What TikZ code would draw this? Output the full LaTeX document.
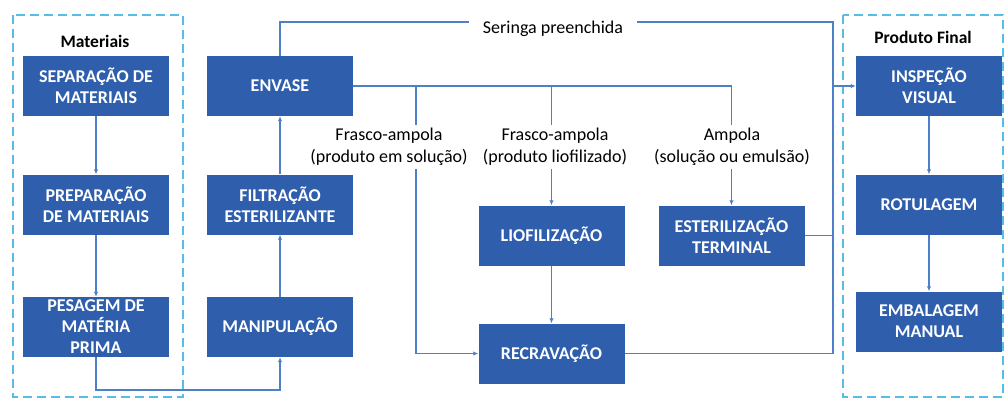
\documentclass[tikz,border=0pt]{standalone}
\usepackage{fontspec}
\setmainfont{Carlito}
\usetikzlibrary{arrows.meta}

\definecolor{boxblue}{RGB}{46,94,172}
\definecolor{lineblue}{RGB}{78,128,200}
\definecolor{dashblue}{RGB}{85,189,230}

\begin{document}
\begin{tikzpicture}[x=1pt, y=-1pt,
    stepbox/.style={fill=boxblue, text=white, minimum width=146pt, minimum height=60pt,
        inner sep=0pt, align=center, font=\fontsize{18}{21}\selectfont\bfseries},
    flow/.style={draw=lineblue, line width=1.2pt},
    arr/.style={flow, -{Latex[length=5pt,width=4.5pt]}},
    group/.style={draw=dashblue, line width=2.6pt, dash pattern=on 9pt off 5pt},
    label/.style={fill=white, align=center, inner xsep=2pt, font=\fontsize{18}{22}\selectfont},
    title/.style={font=\fontsize{17.5}{20}\selectfont\bfseries}]

    \useasboundingbox (0,0) rectangle (1005,400);

    % dashed groups
    \draw[group] (13,15) rectangle (183,397);
    \draw[group] (843,15) rectangle (1003,397);
    \node[title] (materiais) at (95,41) {Materiais};
    \node[title] (produto) at (923,37) {Produto Final};

    % boxes
    \node[stepbox] (separacao) at (96,86) {SEPARAÇÃO DE\\MATERIAIS};
    \node[stepbox] (preparacao) at (96,204.5) {PREPARAÇÃO\\DE MATERIAIS};
    \node[stepbox] (pesagem) at (96,327) {PESAGEM DE\\MATÉRIA\\PRIMA};

    \node[stepbox] (envase) at (280,86) {ENVASE};
    \node[stepbox] (filtracao) at (280,204.5) {FILTRAÇÃO\\ESTERILIZANTE};
    \node[stepbox] (manipulacao) at (280,327) {MANIPULAÇÃO};

    \node[stepbox] (liofilizacao) at (551.5,235.5) {LIOFILIZAÇÃO};
    \node[stepbox] (esterilizacao) at (731.5,235.5) {ESTERILIZAÇÃO\\TERMINAL};
    \node[stepbox] (recravacao) at (551.5,353.5) {RECRAVAÇÃO};

    \node[stepbox] (inspecao) at (929,86) {INSPEÇÃO\\VISUAL};
    \node[stepbox] (rotulagem) at (929,204.5) {ROTULAGEM};
    \node[stepbox] (embalagem) at (929,321.5) {EMBALAGEM\\MANUAL};

    % helper points
    \coordinate (topR) at (833,22);
    \coordinate (botR) at (833,353.5);
    \coordinate (midR) at (833,86);
    \coordinate (bottom) at (96,390);
    \coordinate (branchA) at (416,86);
    \coordinate (branchB) at (551.5,86);
    \coordinate (branchC) at (731.5,86);

    % materiais
    \draw[arr] (separacao) -- (preparacao);
    \draw[arr] (preparacao) -- (pesagem);
    \draw[arr] (pesagem) -- (bottom) -| (manipulacao);

    % manipulacao up to envase
    \draw[arr] (manipulacao) -- (filtracao);
    \draw[arr] (filtracao) -- (envase);

    % branches after envase
    \draw[flow] (envase.east) -- (branchC);
    \draw[arr] (branchA) |- (recravacao.west);
    \draw[arr] (branchB) -- (liofilizacao);
    \draw[arr] (branchC) -- (esterilizacao);
    \draw[arr] (liofilizacao) -- (recravacao);

    % to produto final
    \draw[flow] (envase.north) |- (topR) -- (botR) -- (recravacao.east);
    \draw[flow] (esterilizacao.east) -- (esterilizacao.east -| topR);
    \draw[arr] (midR) -- (inspecao.west);

    \draw[arr] (inspecao) -- (rotulagem);
    \draw[arr] (rotulagem) -- (embalagem);

    % labels
    \node[label, inner xsep=14pt] (seringa) at (553,29) {Seringa preenchida};
    \node[label] (frascoA) at (389,147) {Frasco-ampola\\(produto em solução)};
    \node[label] (frascoB) at (555,147) {Frasco-ampola\\(produto liofilizado)};
    \node[label] (ampola) at (732,147) {Ampola\\(solução ou emulsão)};

\end{tikzpicture}
\end{document}
